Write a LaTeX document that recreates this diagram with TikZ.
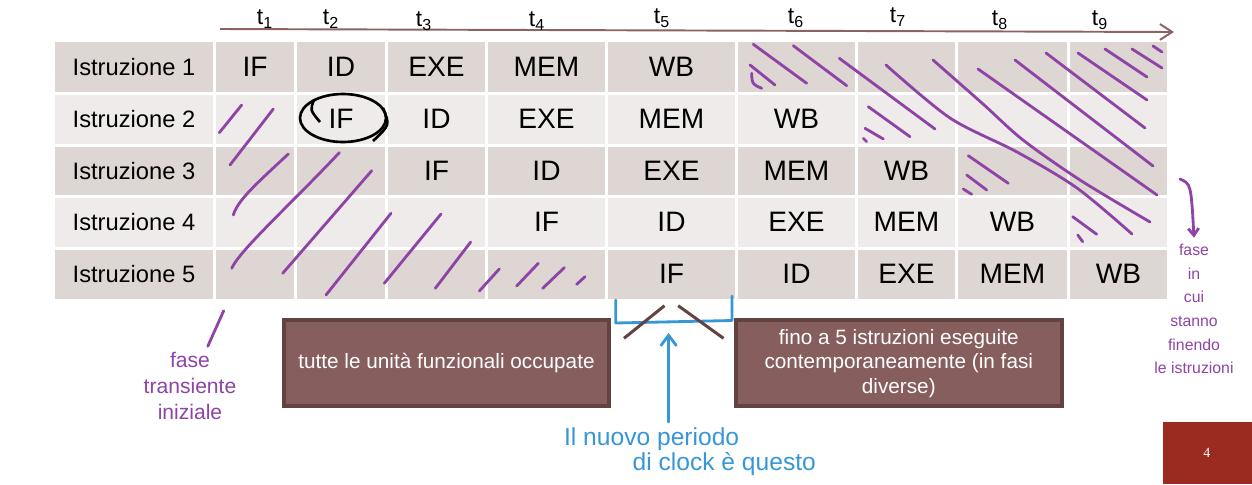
\documentclass[tikz,border=0pt]{standalone}
\usepackage{fontspec}
\setmainfont{Liberation Sans}
\newfontfamily\numfont{Liberation Serif}
\usetikzlibrary{arrows.meta}

\definecolor{rowdark}{RGB}{222,214,210}
\definecolor{rowlight}{RGB}{239,235,234}
\definecolor{boxfill}{RGB}{135,94,94}
\definecolor{boxline}{RGB}{99,66,66}
\definecolor{inkpurple}{RGB}{142,68,166}
\definecolor{inkblue}{RGB}{55,150,215}
\definecolor{axisbrown}{RGB}{140,98,98}
\definecolor{pagered}{RGB}{155,42,32}

\tikzset{
    rowname/.style={font=\fontsize{13.5}{16}\selectfont},
    phase/.style={font=\fontsize{16}{18}\selectfont},
    timelab/.style={font=\fontsize{13}{13}\selectfont},
    notebox/.style={rectangle, fill=boxfill, draw=boxline, line width=2.3pt,
        text=white, minimum width=6.52cm, minimum height=1.72cm, align=center,
        font=\fontsize{11.8}{14}\selectfont},
    hatch/.style={draw=inkpurple, line width=1.6pt, line cap=round, line join=round},
    bluepen/.style={draw=inkblue, line width=1.6pt, line cap=round, line join=round}
}

\begin{document}
\begin{tikzpicture}[x=0.02cm, y=-0.02cm]
        \useasboundingbox (0,0) rectangle (1252,484);

        % time axis
        \coordinate (axL) at (220,29);
        \coordinate (axR) at (1174,32);
        \draw[axisbrown, line width=1.1pt, -{Straight Barb[length=7pt,width=9pt]}] (axL) -- (axR);
        \node[timelab] (t1) at (265,19) {t\textsubscript{1}};
        \node[timelab] (t2) at (331,19) {t\textsubscript{2}};
        \node[timelab] (t3) at (424,21) {t\textsubscript{3}};
        \node[timelab] (t4) at (537,21) {t\textsubscript{4}};
        \node[timelab] (t5) at (662,18) {t\textsubscript{5}};
        \node[timelab] (t6) at (796,18) {t\textsubscript{6}};
        \node[timelab] (t7) at (898,17) {t\textsubscript{7}};
        \node[timelab] (t8) at (1000,20) {t\textsubscript{8}};
        \node[timelab] (t9) at (1100,20) {t\textsubscript{9}};

        % table
        \fill[rowdark] (55,42) rectangle (1167,92);
        \fill[rowlight] (55,94.5) rectangle (1167,144);
        \fill[rowdark] (55,146.5) rectangle (1167,195);
        \fill[rowlight] (55,197.5) rectangle (1167,247);
        \fill[rowdark] (55,249.5) rectangle (1167,298.5);
        \draw[white, line width=1.7pt]
            (214.5,42) -- (214.5,298.5) (295.5,42) -- (295.5,298.5)
            (386.5,42) -- (386.5,298.5) (486.5,42) -- (486.5,298.5)
            (606.5,42) -- (606.5,298.5) (736.5,42) -- (736.5,298.5)
            (856.5,42) -- (856.5,298.5) (956.5,42) -- (956.5,298.5)
            (1068.5,42) -- (1068.5,298.5);

        \node[rowname] (i1) at (134,67) {Istruzione 1};
        \node[rowname] (i2) at (134,119.3) {Istruzione 2};
        \node[rowname] (i3) at (134,170.8) {Istruzione 3};
        \node[rowname] (i4) at (134,222.3) {Istruzione 4};
        \node[rowname] (i5) at (134,274) {Istruzione 5};

        \node[phase] (if1) at (255,67) {IF};
        \node[phase] (id1) at (341,67) {ID};
        \node[phase] (exe1) at (436.5,67) {EXE};
        \node[phase] (mem1) at (546.5,67) {MEM};
        \node[phase] (wb1) at (671.5,67) {WB};

        \node[phase] (if2) at (341,119.3) {IF};
        \node[phase] (id2) at (436.5,119.3) {ID};
        \node[phase] (exe2) at (546.5,119.3) {EXE};
        \node[phase] (mem2) at (671.5,119.3) {MEM};
        \node[phase] (wb2) at (796.5,119.3) {WB};

        \node[phase] (if3) at (436.5,170.8) {IF};
        \node[phase] (id3) at (546.5,170.8) {ID};
        \node[phase] (exe3) at (671.5,170.8) {EXE};
        \node[phase] (mem3) at (796.5,170.8) {MEM};
        \node[phase] (wb3) at (906.5,170.8) {WB};

        \node[phase] (if4) at (546.5,222.3) {IF};
        \node[phase] (id4) at (671.5,222.3) {ID};
        \node[phase] (exe4) at (796.5,222.3) {EXE};
        \node[phase] (mem4) at (906.5,222.3) {MEM};
        \node[phase] (wb4) at (1012.5,222.3) {WB};

        \node[phase] (if5) at (671.5,274) {IF};
        \node[phase] (id5) at (796.5,274) {ID};
        \node[phase] (exe5) at (906.5,274) {EXE};
        \node[phase] (mem5) at (1012.5,274) {MEM};
        \node[phase] (wb5) at (1118.5,274) {WB};

        % circled IF
        \draw[black, line width=1.5pt] (343,118) ellipse [x radius=43, y radius=24];
        \draw[black, line width=1.5pt] (314,100) .. controls (310,110) .. (320,122);
        \draw[black, line width=1.5pt] (383,108) .. controls (390,125) .. (373,141);

        % hatching, start of the pipeline
        \draw[hatch] (241.7,105) -- (219.3,132.7);
        \draw[hatch] (273.3,109) -- (230,165);
        \draw[hatch] (288.3,154) .. controls (255,185) and (238,200) .. (233.3,215);
        \draw[hatch] (339.3,152.7) .. controls (290,205) and (240,250) .. (231.7,268.3);
        \draw[hatch] (371.7,170.7) -- (282.7,273.3);
        \draw[hatch] (391,213.3) -- (326,295);
        \draw[hatch] (441,214) -- (384.3,283.3);
        \draw[hatch] (470.7,242) -- (435.3,288.3);
        \draw[hatch] (499.3,269) -- (479.3,291);
        \draw[hatch] (538.3,263.3) -- (516.7,286);
        \draw[hatch] (564.3,267.7) -- (542.7,288.3);
        \draw[hatch] (585,276.7) -- (576.7,284.3);

        % hatching, end of the pipeline
        \draw[hatch] (753.3,44.3) -- (806.7,83.3);
        \draw[hatch] (793.3,45.7) -- (846.7,85.7);
        \draw[hatch] (750,65) -- (775,85);
        \draw[hatch] (751.7,73.3) .. controls (752,84) .. (761.7,88.3);
        \draw[hatch] (839.3,58.3) -- (935,129);
        \draw[hatch] plot[smooth] coordinates {(886,65) (950,118) (1017,152) (1077,188) (1132,234)};
        \draw[hatch] plot[smooth] coordinates {(933,60) (983,104) (1023,140) (1080,180) (1150,222)};
        \draw[hatch] (978,69) -- (1157,195);
        \draw[hatch] (1015,60) -- (1153,166);
        \draw[hatch] (1046,53) -- (1145,128);
        \draw[hatch] (1078,53) -- (1147,100);
        \draw[hatch] (1105,49) -- (1147,77);
        \draw[hatch] (1132,49) -- (1162,68);
        \draw[hatch] (1153,46) -- (1162,52);
        \draw[hatch] (868.3,106.7) -- (910,136.7);
        \draw[hatch] (865,128.3) -- (883.3,139);
        \draw[hatch] (863.3,138.3) -- (866.7,141.7);
        \draw[hatch] (968.3,155.7) -- (1008.3,183.3);
        \draw[hatch] (966.7,175) -- (986.7,190);
        \draw[hatch] (963.3,189) -- (971.7,194.3);
        \draw[hatch] (1072.7,216.7) -- (1096.7,234.3);
        \draw[hatch] (1077.7,235) -- (1082.7,241.7);

        % notes
        \node[inkpurple, align=center, font=\fontsize{12}{14.7}\selectfont] (startnote) at (190,386) {fase\\transiente\\iniziale};
        \coordinate (startpt) at (223.7,310.7);
        \draw[hatch] (startpt) -- (startnote);

        \node[inkpurple, align=center, font=\fontsize{9}{13.5}\selectfont] (endnote) at (1194,309) {fase\\in\\cui\\stanno\\finendo\\le istruzioni};
        \coordinate (endpt) at (1180,179);
        \draw[hatch, -{Straight Barb[length=4pt,width=6pt]}] (endpt) .. controls (1191,184) .. (endnote.north);

        \node[notebox] (busy) at (446.5,363.3) {tutte le unità funzionali occupate};
        \node[notebox] (overlap) at (898.8,363.3) {fino a 5 istruzioni eseguite\\contemporaneamente (in fasi\\diverse)};

        % new clock period
        \draw[bluepen] (615.8,300) -- (615.8,323) -- (732,320.5) -- (732,296);
        \draw[boxline, line width=1.7pt] (664.5,305.7) -- (624,338.3) (678.2,305.7) -- (723.5,338.3);
        \node[inkblue, align=left, font=\fontsize{14}{14.2}\selectfont] (clocknote) at (690,452) {Il nuovo periodo\\\hspace{39pt}di clock è questo};
        \coordinate (clockpt) at (668.6,333);
        \draw[bluepen, -{Straight Barb[length=6pt,width=9pt]}] (clocknote.north -| clockpt) -- (clockpt);

        % page number
        \fill[pagered] (1163,422) rectangle (1252,484);
        \node[white, font=\numfont\fontsize{8}{8}\selectfont] (pagenum) at (1207,453) {4};
\end{tikzpicture}
\end{document}
